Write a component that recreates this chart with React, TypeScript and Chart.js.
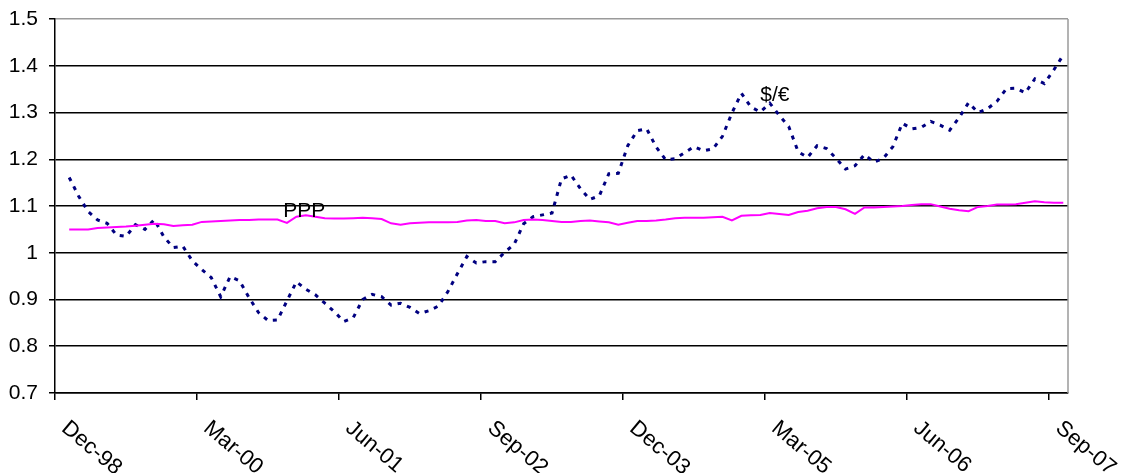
import React, { useEffect, useRef } from 'react';
import { Chart, registerables } from 'chart.js';

Chart.register(...registerables);

// monthly, Jan-99 .. Oct-07
const usdPerEur = [
  1.161, 1.121, 1.088, 1.070, 1.063, 1.038, 1.035, 1.060, 1.050, 1.071, 1.034, 1.011,
  1.014, 0.983, 0.964, 0.947, 0.906, 0.949, 0.940, 0.904, 0.872, 0.855, 0.856, 0.897,
  0.938, 0.922, 0.910, 0.892, 0.874, 0.853, 0.861, 0.900, 0.911, 0.906, 0.888, 0.892,
  0.883, 0.870, 0.876, 0.886, 0.917, 0.955, 0.992, 0.978, 0.981, 0.981, 1.001, 1.018,
  1.062, 1.077, 1.081, 1.085, 1.158, 1.166, 1.137, 1.114, 1.122, 1.169, 1.170, 1.229,
  1.261, 1.265, 1.226, 1.199, 1.201, 1.214, 1.227, 1.218, 1.222, 1.249, 1.299, 1.341,
  1.312, 1.301, 1.320, 1.294, 1.270, 1.216, 1.204, 1.229, 1.223, 1.202, 1.179, 1.186,
  1.210, 1.194, 1.202, 1.227, 1.277, 1.265, 1.268, 1.281, 1.273, 1.262, 1.289, 1.321,
  1.300, 1.308, 1.324, 1.351, 1.352, 1.342, 1.372, 1.362, 1.391, 1.423,
];

const ppp = [
  1.050, 1.050, 1.050, 1.053, 1.054, 1.055, 1.056, 1.058, 1.060, 1.062, 1.061, 1.057,
  1.059, 1.060, 1.066, 1.067, 1.068, 1.069, 1.070, 1.070, 1.071, 1.071, 1.071, 1.064,
  1.077, 1.080, 1.077, 1.074, 1.073, 1.073, 1.074, 1.075, 1.074, 1.072, 1.063, 1.060,
  1.063, 1.064, 1.065, 1.065, 1.065, 1.066, 1.069, 1.070, 1.068, 1.068, 1.063, 1.065,
  1.070, 1.071, 1.070, 1.068, 1.066, 1.066, 1.068, 1.069, 1.067, 1.065, 1.060, 1.064,
  1.068, 1.068, 1.069, 1.071, 1.074, 1.075, 1.075, 1.075, 1.076, 1.077, 1.069, 1.079,
  1.080, 1.081, 1.085, 1.083, 1.081, 1.087, 1.090, 1.095, 1.098, 1.098, 1.093, 1.083,
  1.097, 1.097, 1.098, 1.099, 1.100, 1.102, 1.104, 1.104, 1.099, 1.094, 1.091, 1.089,
  1.098, 1.100, 1.103, 1.103, 1.104, 1.107, 1.110, 1.108, 1.107, 1.107,
];

// axis runs in months from Dec-98; ticks every 15 months
const xTickLabels = ['Dec-98', 'Mar-00', 'Jun-01', 'Sep-02', 'Dec-03', 'Mar-05', 'Jun-06', 'Sep-07'];
const tickStep = 15;
const xMax = 107;
const firstSlot = 1.5; // Jan-99 sits mid-way in its month

const notes = [
  { text: 'PPP', x: 24.1, y: 1.077 },
  { text: '$/€', x: 74.5, y: 1.325 },
];

const FAMILY = '"Liberation Sans", Arial, sans-serif';

const overlay = {
  id: 'overlay',
  afterDraw(chart: any) {
    const { ctx, chartArea, scales } = chart;
    const xs = scales.x;
    const ys = scales.y;
    ctx.save();
    // grey right border
    ctx.strokeStyle = '#9a9a9a';
    ctx.lineWidth = 1.5;
    ctx.beginPath();
    ctx.moveTo(chartArea.right, chartArea.top);
    ctx.lineTo(chartArea.right, chartArea.bottom);
    ctx.stroke();

    ctx.fillStyle = '#000';
    // slanted category labels
    ctx.font = '22px ' + FAMILY;
    xTickLabels.forEach((lab, i) => {
      const px = xs.getPixelForValue(i * tickStep);
      ctx.save();
      ctx.translate(px + 16.5, chartArea.bottom + 24);
      ctx.rotate((40 * Math.PI) / 180);
      ctx.textAlign = 'left';
      ctx.textBaseline = 'top';
      ctx.fillText(lab, 0, 0);
      ctx.restore();
    });

    ctx.font = '21px ' + FAMILY;
    ctx.textAlign = 'left';
    ctx.textBaseline = 'alphabetic';
    notes.forEach((n) => {
      ctx.fillText(n.text, xs.getPixelForValue(n.x), ys.getPixelForValue(n.y));
    });
    ctx.restore();
  },
};

const App: React.FC = () => {
  const chartRef = useRef<HTMLCanvasElement | null>(null);
  const chartInstance = useRef<Chart | null>(null);

  useEffect(() => {
    if (!chartRef.current) return;
    const ctx = chartRef.current.getContext('2d');
    if (!ctx) return;
    if (chartInstance.current) chartInstance.current.destroy();

    chartInstance.current = new Chart(ctx, {
      type: 'line',
      data: {
        datasets: [
          {
            label: 'PPP',
            data: ppp.map((v, i) => ({ x: i + firstSlot, y: v })),
            borderColor: '#ff00ff',
            borderWidth: 2,
            pointRadius: 0,
            tension: 0,
          },
          {
            label: '$/€',
            data: usdPerEur.map((v, i) => ({ x: i + firstSlot, y: v })),
            borderColor: '#000080',
            borderWidth: 3,
            borderDash: [4, 6],
            pointRadius: 0,
            tension: 0,
          },
        ],
      },
      options: {
        responsive: false,
        animation: false,
        layout: { padding: { top: 19, right: 53, left: 0, bottom: 0 } },
        plugins: {
          legend: { display: false },
          tooltip: { enabled: false },
        },
        scales: {
          x: {
            type: 'linear',
            min: 0,
            max: xMax,
            afterBuildTicks: (scale: any) => {
              scale.ticks = xTickLabels.map((_, i) => ({ value: i * tickStep }));
            },
            afterFit: (scale: any) => {
              scale.height = 80;
            },
            ticks: { display: false },
            grid: {
              drawOnChartArea: false,
              drawTicks: true,
              tickLength: 7,
              color: '#000',
              lineWidth: 1.5,
            },
            border: { display: true, color: '#000', width: 1.5 },
          },
          y: {
            min: 0.7,
            max: 1.5,
            ticks: {
              stepSize: 0.1,
              padding: 11,
              color: '#000',
              font: { family: FAMILY, size: 21 },
              callback: (v: any) => String(Math.round(Number(v) * 10) / 10),
            },
            afterFit: (scale: any) => {
              scale.width = 55;
              scale.paddingTop = 0;
              scale.paddingBottom = 0;
            },
            grid: {
              color: (c: any) => (c.tick && c.tick.value > 1.49 ? '#9a9a9a' : '#000'),
              tickColor: '#000',
              lineWidth: 1.5,
              tickLength: 6,
            },
            border: { display: true, color: '#000', width: 1.5 },
          },
        },
      },
      plugins: [overlay],
    });

    return () => {
      if (chartInstance.current) {
        chartInstance.current.destroy();
        chartInstance.current = null;
      }
    };
  }, []);

  return (
    <div style={{ position: 'absolute', left: 0, top: 0, width: 1121, height: 473, background: '#fff' }}>
      <canvas ref={chartRef} width={1121} height={473} style={{ display: 'block' }}></canvas>
    </div>
  );
};

export default App;
